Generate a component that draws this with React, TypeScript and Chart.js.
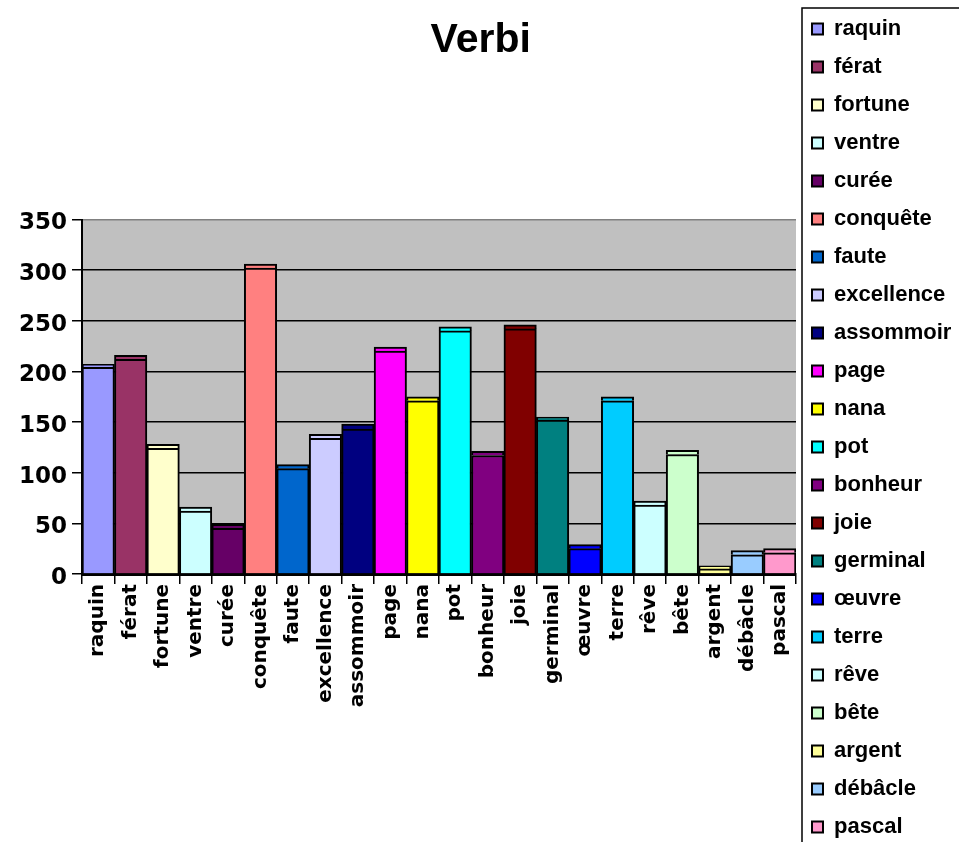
import React, { useEffect, useRef } from "react";
import { Chart, registerables } from "chart.js";

Chart.register(...registerables);

const categories = [
  "raquin", "férat", "fortune", "ventre", "curée", "conquête", "faute",
  "excellence", "assommoir", "page", "nana", "pot", "bonheur", "joie",
  "germinal", "œuvre", "terre", "rêve", "bête", "argent", "débâcle", "pascal",
];

// main (lower) segment of each column
const mainValues = [204, 212, 124, 62, 45, 302, 104, 134, 143, 220, 171, 240, 117, 242, 152, 25, 171, 68, 118, 5, 19, 21];
// thin upper segment of each column
const capValues = [3, 4, 4, 4, 4, 4, 4, 4, 5, 4, 4, 4, 4, 4, 3, 4, 4, 4, 4, 3, 4, 4];

const colors = [
  "#9999FF", "#993366", "#FFFFCC", "#CCFFFF", "#660066", "#FF8080", "#0066CC",
  "#CCCCFF", "#000080", "#FF00FF", "#FFFF00", "#00FFFF", "#800080", "#800000",
  "#008080", "#0000FF", "#00CCFF", "#CCFFFF", "#CCFFCC", "#FFFF99", "#99CCFF", "#FF99CC",
];

const yTicks = [0, 50, 100, 150, 200, 250, 300, 350];

const W = 980;
const H = 880;

export default function App() {
  const ref = useRef<HTMLCanvasElement | null>(null);

  useEffect(() => {
    const canvas = ref.current;
    if (!canvas) return;

    const legendFont = 'bold 22px "Liberation Sans", Arial, sans-serif';
    const m = document.createElement("canvas").getContext("2d")!;
    m.font = legendFont;
    const maxText = Math.max(...categories.map((c) => m.measureText(c).width));
    const legendPadding = 16;
    const legendW = legendPadding + 11 + 11 + maxText + 10;
    const plotRight = 796;
    const padRight = W - plotRight - legendW;

    const datasets: any[] = [];
    categories.forEach((name, i) => {
      datasets.push({
        label: name,
        data: categories.map((_, j) => (j === i ? mainValues[i] : null)),
        backgroundColor: colors[i],
        borderColor: "#000",
        borderWidth: 2,
      });
    });
    categories.forEach((name, i) => {
      datasets.push({
        label: name + " ",
        data: categories.map((_, j) => (j === i ? capValues[i] : null)),
        backgroundColor: colors[i],
        borderColor: "#000",
        borderWidth: 2,
      });
    });

    const deco = {
      id: "deco",
      beforeDraw(chart: any) {
        const { ctx, chartArea: a } = chart;
        ctx.save();
        ctx.fillStyle = "#C0C0C0";
        ctx.fillRect(a.left, a.top, a.width, a.height);
        ctx.restore();
      },
      afterDraw(chart: any) {
        const { ctx } = chart;
        const l = chart.legend;
        ctx.save();
        ctx.strokeStyle = "#000";
        ctx.lineWidth = 1.5;
        ctx.strokeRect(l.left + 6, 8, 600, 1200);
        ctx.restore();
      },
    };

    const chart = new Chart(canvas, {
      type: "bar",
      data: { labels: categories, datasets },
      plugins: [deco],
      options: {
        responsive: false,
        animation: false,
        layout: { padding: { top: 2, left: 0, right: padRight, bottom: 0 } },
        datasets: { bar: { barPercentage: 1, categoryPercentage: 1 } },
        plugins: {
          tooltip: { enabled: false },
          title: {
            display: true,
            text: "Verbi",
            color: "#000",
            font: { family: '"Liberation Sans", Arial, sans-serif', size: 41, weight: "bold", lineHeight: 1.2 },
            padding: { top: 14.4, bottom: 153.9 },
          },
          legend: {
            display: true,
            position: "right",
            align: "start",
            labels: {
              color: "#000",
              font: { family: '"Liberation Sans", Arial, sans-serif', size: 22, weight: "bold" },
              boxWidth: 11,
              boxHeight: 11,
              padding: legendPadding,
              filter: (item: any) => item.datasetIndex < categories.length,
            },
          },
        },
        scales: {
          x: {
            type: "category",
            stacked: true,
            offset: true,
            afterFit: (s: any) => {
              s.height = H - 574;
            },
            grid: {
              display: true,
              drawOnChartArea: false,
              drawTicks: true,
              tickLength: 10,
              offset: true,
              color: "#000",
              lineWidth: 1.5,
            },
            border: { display: true, color: "#000", width: 3 },
            ticks: {
              autoSkip: false,
              maxRotation: 90,
              minRotation: 90,
              padding: 0,
              color: "#000",
              font: { family: '"DejaVu Sans", sans-serif', size: 20, weight: "bold" },
            },
          },
          y: {
            type: "linear",
            stacked: true,
            min: yTicks[0],
            max: yTicks[yTicks.length - 1],
            afterFit: (s: any) => {
              s.width = 82;
            },
            afterBuildTicks: (s: any) => {
              s.ticks = yTicks.map((v) => ({ value: v }));
            },
            grid: {
              color: (c: any) => (c.tick && c.tick.value === 350 ? "#808080" : "#000"),
              tickColor: "#000",
              lineWidth: 1.5,
              tickLength: 10,
              drawTicks: true,
            },
            border: { display: true, color: "#000", width: 2 },
            ticks: {
              padding: 5,
              labelOffset: 4,
              color: "#000",
              font: { family: '"DejaVu Sans", sans-serif', size: 23, weight: "bold" },
            },
          },
        },
      },
    } as any);

    return () => chart.destroy();
  }, []);

  return (
    <div style={{ position: "fixed", left: 0, top: 0, width: 959, height: 842, overflow: "hidden", background: "#fff" }}>
      <canvas ref={ref} width={W} height={H} style={{ display: "block", width: W, height: H }} />
    </div>
  );
}
